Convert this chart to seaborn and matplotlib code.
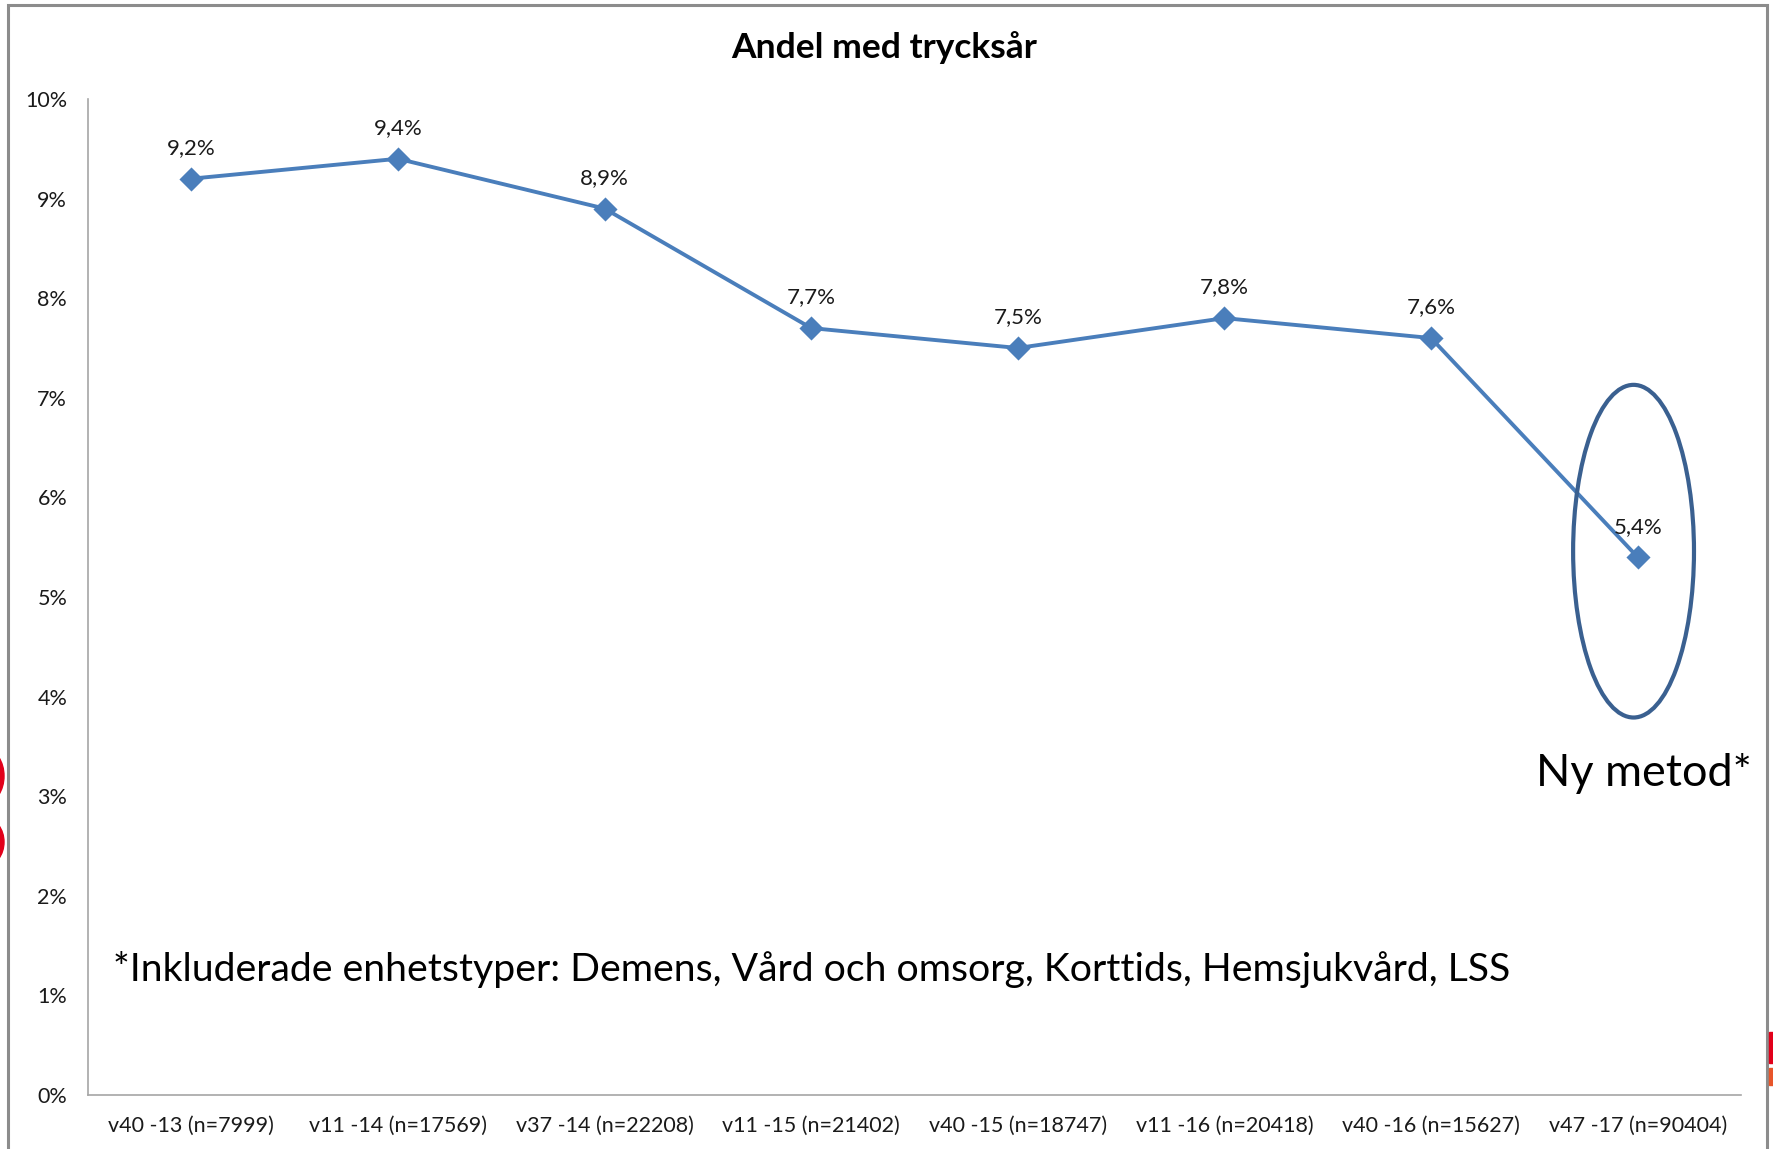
import matplotlib
matplotlib.use("Agg")
import matplotlib.pyplot as plt
import matplotlib.patches as mpatches
import seaborn as sns
import pandas as pd

# data
categories = ["v40 -13 (n=7999)", "v11 -14 (n=17569)", "v37 -14 (n=22208)",
              "v11 -15 (n=21402)", "v40 -15 (n=18747)", "v11 -16 (n=20418)",
              "v40 -16 (n=15627)", "v47 -17 (n=90404)"]
values = [9.2, 9.4, 8.9, 7.7, 7.5, 7.8, 7.6, 5.4]
yticks = [0, 1, 2, 3, 4, 5, 6, 7, 8, 9, 10]

title = "Andel med trycksår"
note = "*Inkluderade enhetstyper: Demens, Vård och omsorg, Korttids, Hemsjukvård, LSS"
new_method = "Ny metod*"

df = pd.DataFrame({"period": categories, "andel": values})

sns.set_style("white")
plt.rcParams["font.family"] = ["Lato", "DejaVu Sans"]

line_color = "#4A7EBB"
axis_color = "#A6A6A6"

fig = plt.figure(figsize=(17.73, 11.49), dpi=100)
ax = fig.add_axes([88 / 1773, 1 - 1095 / 1149, (1741 - 88) / 1773, (1095 - 99) / 1149])

sns.pointplot(data=df, x="period", y="andel", color=line_color, markers="D",
              markersize=10.5, linewidth=2.8, ax=ax)

ax.set_xlim(-0.5, len(categories) - 0.5)
ax.set_ylim(0, 10)
ax.set_yticks(yticks)
ax.set_yticklabels([f"{t}%" for t in yticks])
ax.set_xlabel("")
ax.set_ylabel("")

# category boundaries carry the tick marks
ax.set_xticks([i + 0.5 for i in range(-1, len(categories))], minor=True)
ax.tick_params(axis="x", which="major", length=0, pad=15, labelsize=15.5, colors="#1a1a1a")
ax.tick_params(axis="x", which="minor", length=7, width=1, color=axis_color, direction="out")
ax.tick_params(axis="y", length=6, width=1, color=axis_color, direction="out", pad=9,
               labelsize=15.5, labelcolor="#1a1a1a")

sns.despine(ax=ax)
for side in ["left", "bottom"]:
    ax.spines[side].set_color(axis_color)
    ax.spines[side].set_linewidth(1.2)

# data labels
for i, v in enumerate(values):
    ax.annotate(f"{v:.1f}%".replace(".", ","), (i, v), xytext=(0, 22),
                textcoords="offset points", ha="center", va="center",
                fontsize=16, color="#1a1a1a")

# ellipse around the new-method point
ax.add_patch(mpatches.Ellipse((6.98, 5.46), 0.585, 3.34, fill=False,
                              edgecolor="#3A6090", linewidth=3, zorder=5))

fig.text(884 / 1773, 1 - 48 / 1149, title, ha="center", va="center",
         fontsize=25.5, fontweight="bold", color="black")
fig.text(113 / 1773, 1 - 970 / 1149, note, ha="left", va="center",
         fontsize=28.3, color="black")
fig.text(1752 / 1773, 1 - 773 / 1149, new_method, ha="right", va="center",
         fontsize=32.4, color="black")

# outer frame of the slide object
fig.add_artist(mpatches.Rectangle((8 / 1773, -0.05), (1767 - 8) / 1773, 1.05 - 5 / 1149,
                                  transform=fig.transFigure, fill=False,
                                  edgecolor="#8C8C8C", linewidth=2.2))
# red fragments at the edges
for yc, h in [(776, 53), (842, 47)]:
    fig.add_artist(mpatches.Ellipse((-14 / 1773, 1 - yc / 1149), 36 / 1773, h / 1149,
                                    transform=fig.transFigure, color="#E2001A"))
fig.add_artist(mpatches.Rectangle((1769 / 1773, 1 - 1063 / 1149), 6 / 1773, 31 / 1149,
                                  transform=fig.transFigure, color="#E2001A"))
fig.add_artist(mpatches.Rectangle((1769 / 1773, 1 - 1085 / 1149), 6 / 1773, 17 / 1149,
                                  transform=fig.transFigure, color="#E8552A"))

fig.savefig("out.png", dpi=100, facecolor="white")
